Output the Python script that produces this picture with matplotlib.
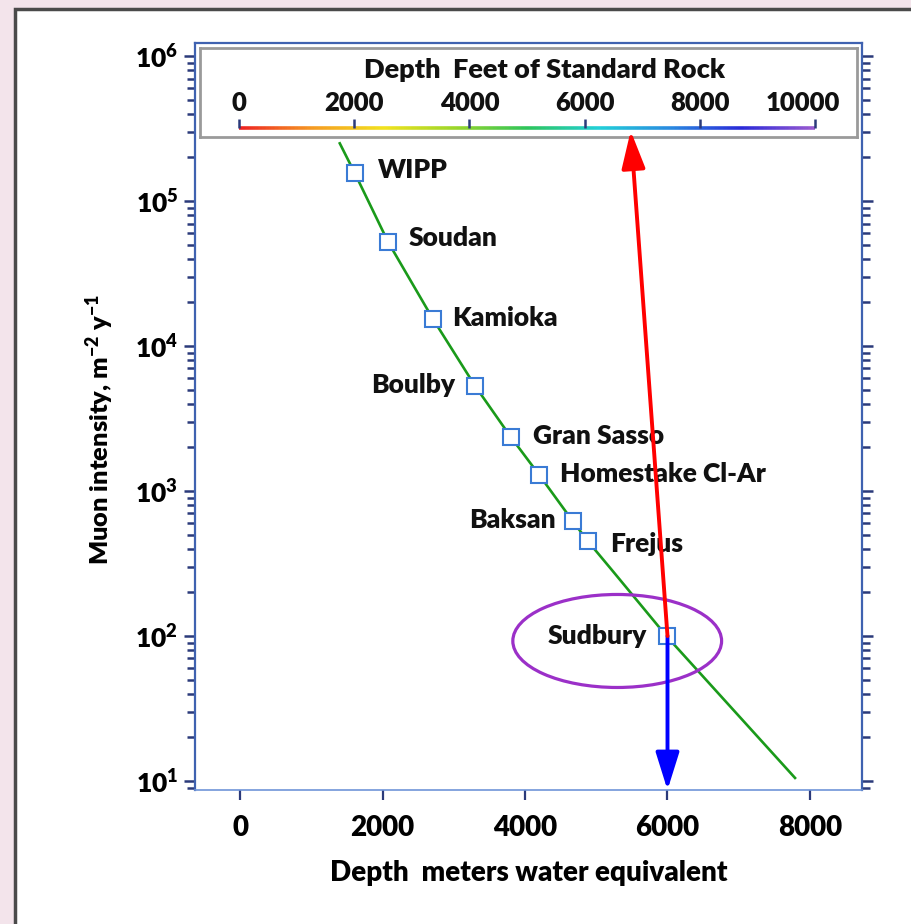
import numpy as np
import matplotlib
matplotlib.use('Agg')
import matplotlib.pyplot as plt
from matplotlib.collections import LineCollection
from matplotlib.colors import LinearSegmentedColormap
from matplotlib.patches import Ellipse, Rectangle
from matplotlib.ticker import LogLocator, NullFormatter, FixedLocator

WEIGHT = 'heavy'
plt.rcParams['font.family'] = ['Lato', 'DejaVu Sans']
plt.rcParams['font.weight'] = WEIGHT
plt.rcParams['mathtext.fontset'] = 'custom'
plt.rcParams['mathtext.rm'] = 'Lato:' + WEIGHT
plt.rcParams['mathtext.it'] = 'Lato:' + WEIGHT
plt.rcParams['mathtext.bf'] = 'Lato:' + WEIGHT
plt.rcParams['mathtext.default'] = 'regular'

# ---------------- data ----------------
sites = ['WIPP', 'Soudan', 'Kamioka', 'Boulby', 'Gran Sasso',
         'Homestake Cl-Ar', 'Baksan', 'Frejus', 'Sudbury']
site_depth_mwe = [1610, 2080, 2710, 3300, 3800, 4200, 4670, 4880, 6000]
site_intensity = [1.56e5, 5.2e4, 1.53e4, 5.3e3, 2.36e3, 1.29e3, 620, 452, 100]

curve_depth_mwe = [1400, 1610, 2080, 2710, 3300, 3800, 4200, 4670, 4880,
                   5220, 6000, 7790]
curve_intensity = [2.5e5, 1.56e5, 5.2e4, 1.53e4, 5.3e3, 2.36e3, 1.29e3,
                   620, 452, 285, 98, 10.5]

x_ticks = [0, 2000, 4000, 6000, 8000]
y_ticks = [1e1, 1e2, 1e3, 1e4, 1e5, 1e6]
ft_ticks = [0, 2000, 4000, 6000, 8000, 10000]
sudbury_depth_ft = 6800
sudbury_depth_mwe = 6000
sudbury_intensity = 100

# ---------------- layout / style ----------------
label_style = {
    'WIPP': (17, 2, 'left'),
    'Soudan': (15, 3, 'left'),
    'Kamioka': (14, 1, 'left'),
    'Boulby': (-14, 1, 'right'),
    'Gran Sasso': (16, 1, 'left'),
    'Homestake Cl-Ar': (15, 1, 'left'),
    'Baksan': (-12, 1, 'right'),
    'Frejus': (16, -2, 'left'),
    'Sudbury': (-15, 0, 'right'),
}

W, H = 911, 924
fig = plt.figure(figsize=(W / 100, H / 100), dpi=100)
fig.patch.set_facecolor('#f3e4eb')
panel = Rectangle((15 / W, -0.1), 1.2, (H - 9) / H + 0.1,
                  transform=fig.transFigure, facecolor='white',
                  edgecolor='#4a4a4a', linewidth=2.5, zorder=-10)
fig.add_artist(panel)

ax_l, ax_r, ax_t, ax_b = 195, 862, 43, 790
ax = fig.add_axes([ax_l / W, 1 - ax_b / H, (ax_r - ax_l) / W, (ax_b - ax_t) / H])
ax.set_facecolor('none')

ax.set_yscale('log')
ax.set_xlim(-632, 8730)
ax.set_ylim(10 ** 0.938, 10 ** 6.09)

spine_col = '#3f62b0'
tick_col = '#2b3a7a'
for s in ['left', 'right', 'top']:
    ax.spines[s].set_color(spine_col)
    ax.spines[s].set_linewidth(1.6)
ax.spines['bottom'].set_color('#6f95d8')
ax.spines['bottom'].set_linewidth(1.2)

ax.xaxis.set_major_locator(FixedLocator(x_ticks))
ax.yaxis.set_major_locator(FixedLocator(y_ticks))
ax.yaxis.set_minor_locator(LogLocator(base=10, subs=np.arange(2, 10), numticks=20))
ax.yaxis.set_minor_formatter(NullFormatter())
ax.tick_params(axis='x', which='major', direction='out', length=7, width=1.6,
               color=tick_col, pad=11, labelsize=20, top=False)
ax.tick_params(axis='y', which='major', direction='out', length=8, width=1.8,
               color=tick_col, pad=4, labelsize=19, left=True, right=True)
ax.tick_params(axis='y', which='minor', direction='out', length=6, width=1.8,
               color=tick_col, left=True, right=True)
for lab in ax.get_xticklabels() + ax.get_yticklabels():
    lab.set_fontweight(WEIGHT)

# green curve
ax.plot(curve_depth_mwe, curve_intensity, color='#1a9a1a', lw=1.9, zorder=2)
# site markers
ax.plot(site_depth_mwe, site_intensity, linestyle='none', marker='s',
        markersize=11, markerfacecolor='white', markeredgecolor='#3a7bd5',
        markeredgewidth=1.5, zorder=4)
for name, xd, yd in zip(sites, site_depth_mwe, site_intensity):
    dx, dy, ha = label_style[name]
    ax.annotate(name, (xd, yd), xytext=(dx, dy), textcoords='offset points',
                ha=ha, va='center', fontsize=19, fontweight=WEIGHT,
                color='#111111', zorder=5)

# blue arrow down to the depth axis
ax.annotate('', xy=(sudbury_depth_mwe, ax.get_ylim()[0]),
            xytext=(sudbury_depth_mwe, sudbury_intensity),
            arrowprops=dict(arrowstyle='-|>,head_length=1.15,head_width=0.36',
                            mutation_scale=20, color='#0000ff', lw=2.8,
                            shrinkA=0, shrinkB=0), zorder=6)

# ellipse around Sudbury
ell = Ellipse((0.633, 0.1995), 0.313, 0.1245, transform=ax.transAxes,
              facecolor='none', edgecolor='#9b30c8', lw=2.3, zorder=3)
ax.add_patch(ell)

ax.set_xlabel('Depth  meters water equivalent', fontsize=20,
              fontweight=WEIGHT, labelpad=14)
fig.text(100 / W, 1 - 430 / H, 'Muon intensity, m$^{-2}$ y$^{-1}$',
         rotation=90, ha='center', va='center', fontsize=18.3,
         fontweight=WEIGHT)

# ---------------- feet of rock scale (inset) ----------------
c_l, c_r, c_t, c_b = 200, 857, 48, 137
cax = fig.add_axes([c_l / W, 1 - c_b / H, (c_r - c_l) / W, (c_b - c_t) / H])
cax.set_xlim(-677, 10729)
cax.set_ylim(0, 1)
cax.set_xticks([])
cax.set_yticks([])
for s in cax.spines.values():
    s.set_color('#9a9a9a')
    s.set_linewidth(2.0)
cax.set_facecolor('white')

rainbow = LinearSegmentedColormap.from_list(
    'rb', ['#ee2222', '#f59a22', '#f2e21e', '#9ad62a', '#2ec45a',
           '#22d0d8', '#2a8ae0', '#2a2ad8', '#9a5ad0'])
fx = np.linspace(ft_ticks[0], ft_ticks[-1], 400)
line_y = 0.10
segs = [[(fx[i], line_y), (fx[i + 1], line_y)] for i in range(len(fx) - 1)]
lc = LineCollection(segs, colors=rainbow(np.linspace(0, 1, len(segs))),
                    linewidths=2.6)
cax.add_collection(lc)
cax.vlines(ft_ticks, line_y, line_y + 0.1, color=tick_col, lw=1.8)
for t in ft_ticks:
    dx = -9 if t == ft_ticks[-1] else 0
    cax.annotate(f'{t}', (t, 0.38), xytext=(dx, 0), textcoords='offset points',
                 ha='center', va='center', fontsize=18.5,
                 fontweight=WEIGHT, color='#111111')
cax.text(0.525, 0.75, 'Depth  Feet of Standard Rock', transform=cax.transAxes,
         ha='center', va='center', fontsize=19.5, fontweight=WEIGHT,
         color='#111111')

# red arrow from Sudbury up to its depth in feet
cax.annotate('', xy=(sudbury_depth_ft, line_y - 0.03), xycoords='data',
             xytext=(sudbury_depth_mwe, sudbury_intensity),
             textcoords=ax.transData,
             arrowprops=dict(arrowstyle='-|>,head_length=1.15,head_width=0.36',
                             mutation_scale=20, color='#ff0000', lw=2.8,
                             shrinkA=0, shrinkB=0),
             annotation_clip=False)

fig.savefig('out.png', dpi=100, facecolor=fig.get_facecolor())
